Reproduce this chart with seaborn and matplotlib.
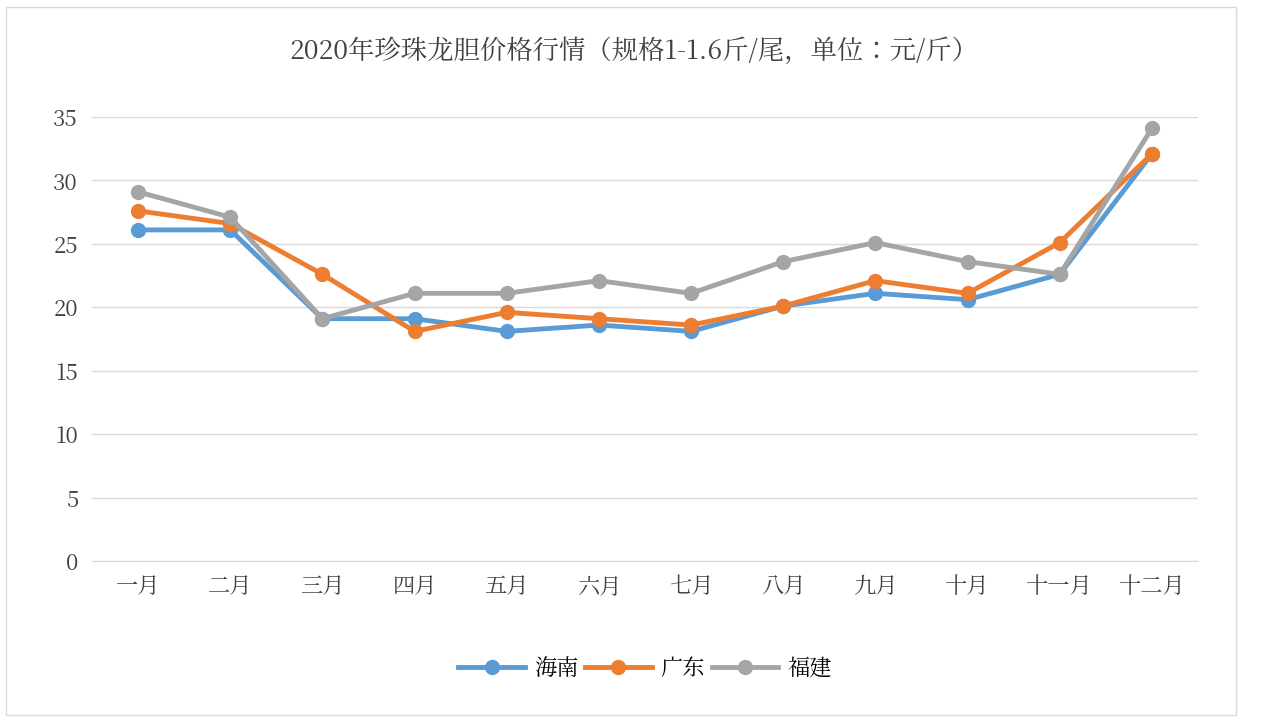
import matplotlib
matplotlib.use("Agg")
import matplotlib.pyplot as plt
from matplotlib import font_manager as fm
import seaborn as sns
import pandas as pd

months = ["一月","二月","三月","四月","五月","六月","七月","八月","九月","十月","十一月","十二月"]
hainan = [26.1, 26.1, 19.1, 19.1, 18.1, 18.6, 18.1, 20.1, 21.1, 20.6, 22.6, 32.1]
guangdong = [27.6, 26.6, 22.6, 18.1, 19.6, 19.1, 18.6, 20.1, 22.1, 21.1, 25.1, 32.1]
fujian = [29.1, 27.1, 19.1, 21.1, 21.1, 22.1, 21.1, 23.6, 25.1, 23.6, 22.6, 34.1]
series_names = ["海南", "广东", "福建"]
colors = ["#5B9BD5", "#ED7D31", "#A5A5A5"]

rows = []
for name, vals in zip(series_names, [hainan, guangdong, fujian]):
    for i, v in enumerate(vals):
        rows.append({"idx": i, "v": v, "s": name})
df = pd.DataFrame(rows)

cjk = None
for f in fm.fontManager.ttflist:
    if "CJK" in f.name and ("SC" in f.name or cjk is None):
        cjk = f.name
        if "SC" in f.name:
            break
if cjk is None:
    import glob
    for p in glob.glob("/usr/share/fonts/**/*CJK*", recursive=True):
        try:
            fm.fontManager.addfont(p)
        except Exception:
            pass
    for f in fm.fontManager.ttflist:
        if "CJK" in f.name:
            cjk = f.name
            break
plt.rcParams["font.family"] = [cjk or "Noto Sans CJK SC", "DejaVu Sans"]

fig = plt.figure(figsize=(12.68, 7.26), dpi=100)
ax = fig.add_axes([92/1268, 1-561/726, (1198-92)/1268, (561-117)/726])
sns.lineplot(data=df, x="idx", y="v", hue="s", palette=colors, marker="o",
             markersize=11, linewidth=3.5, markeredgewidth=0, ax=ax, legend=True)
ax.set_ylim(0, 35)
ax.set_yticks(range(0, 36, 5))
ax.set_xlim(-0.5, 11.5)
ax.set_xticks(range(12))
ax.set_xticklabels(months)
ax.tick_params(labelsize=16, colors="#404040", length=0, pad=10)
ax.grid(axis="y", color="#D9D9D9", linewidth=1)
ax.set_axisbelow(True)
for s in ["top", "right", "left"]:
    ax.spines[s].set_visible(False)
ax.spines["bottom"].set_color("#D9D9D9")
ax.set_xlabel(""); ax.set_ylabel("")
ax.legend(loc="upper center", bbox_to_anchor=(0.5, -0.17), ncol=3, frameon=False,
          fontsize=16, handlelength=3, columnspacing=0.3, handletextpad=0.4)
fig.text(0.5, 1-52/726, "2020年珍珠龙胆价格行情（规格1-1.6斤/尾，单位：元/斤）",
         ha="center", va="center", fontsize=19, color="#404040")
fig.patches.append(plt.Rectangle((0.005, 0.015), 0.97, 0.975, transform=fig.transFigure,
                                 fill=False, edgecolor="#D9D9D9", linewidth=1))
fig.savefig("out.png", dpi=100)
